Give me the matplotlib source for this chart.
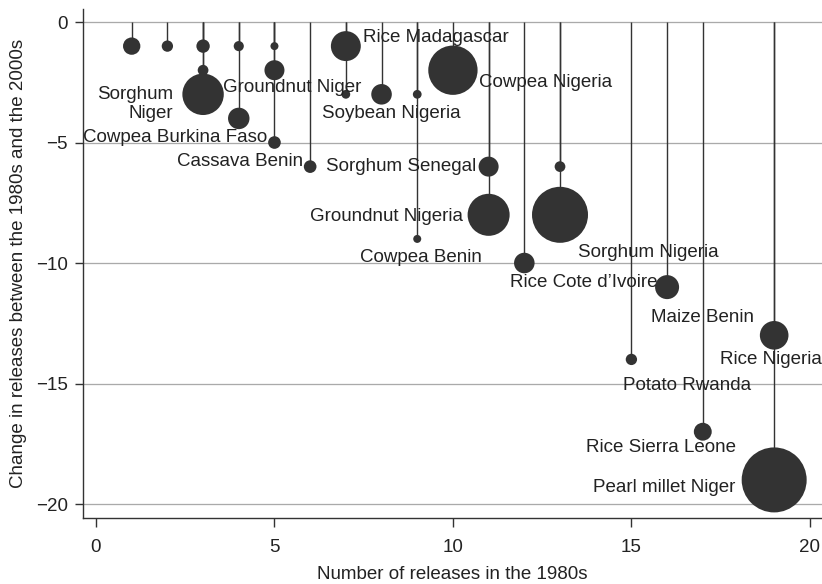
import matplotlib
matplotlib.use("Agg")
import matplotlib.pyplot as plt
import numpy as np

plt.rcParams['font.family'] = ['Liberation Sans', 'DejaVu Sans']

# releases in the 1980s, change between 1980s and 2000s, bubble weight
releases_80s = [1, 2, 3, 3, 3, 4, 4, 5, 5, 5, 6, 7, 7, 8, 9, 9, 10, 11, 11, 12, 13, 13, 15, 16, 17, 19, 19]
change = [-1, -1, -1, -2, -3, -1, -4, -1, -2, -5, -6, -1, -3, -3, -3, -9, -2, -6, -8, -10, -6, -8, -14, -11, -17, -13, -19]
weight = [4.7, 2.0, 2.8, 1.8, 26.8, 1.6, 7.2, 1.0, 6.25, 2.5, 2.5, 14, 1.2, 6.6, 1.2, 1.0, 38, 6.25, 27.6, 6.6, 1.8, 49, 2.0, 9, 5, 12.8, 66]

labels = ["Sorghum\nNiger", "Groundnut Niger", "Cowpea Burkina Faso", "Cassava Benin",
          "Rice Madagascar", "Soybean Nigeria", "Cowpea Benin", "Cowpea Nigeria",
          "Sorghum Senegal", "Groundnut Nigeria", "Rice Cote d\u2019Ivoire", "Sorghum Nigeria",
          "Potato Rwanda", "Maize Benin", "Rice Sierra Leone", "Rice Nigeria", "Pearl millet Niger"]
label_idx = [4, 8, 9, 10, 11, 13, 15, 16, 17, 18, 19, 21, 22, 23, 24, 25, 26]

# label placement (offset in px from the point, horizontal alignment)
label_pos = [(-30, -10, 'right'), (17.5, -17, 'center'), (-7.5, 5.5, 'right'), (-7, 5.5, 'right'),
             (17, 9, 'left'), (10, -19, 'center'), (4, -19, 'center'), (26, -12, 'left'),
             (-12.7, 0.6, 'right'), (-25.7, -2, 'right'), (-14.4, -19, 'left'), (18, -38, 'left'),
             (-8.5, -25.6, 'left'), (-16, -30, 'left'), (33, -15.3, 'right'), (-3, -24, 'center'),
             (-39, -8, 'right')]

col = '#333333'
fs = 18.7

fig = plt.figure(figsize=(822 / 72, 584 / 72), dpi=72)
ax = fig.add_axes([83 / 822, 1 - 518 / 584, 1 - 83 / 822, (518 - 9) / 584])

ax.set_xlim(-0.364, 20.34)
ax.set_ylim(-20.58, 0.54)

ax.set_yticks([0, -5, -10, -15, -20])
ax.set_xticks([0, 5, 10, 15, 20])
ax.yaxis.grid(True, color='#aaaaaa', linewidth=1.3)
ax.set_axisbelow(True)

x = np.array(releases_80s)
y = np.array(change)
w = np.array(weight)

ax.vlines(x, y, 0, color=col, linewidth=1.4, zorder=2)
ax.scatter(x, y, s=64 * w, color=col, linewidths=0, zorder=3)

for lab, i, (dx, dy, ha) in zip(labels, label_idx, label_pos):
    ax.annotate(lab, (x[i], y[i]), xytext=(dx, dy), textcoords='offset points',
                ha=ha, va='center', fontsize=fs, color='#222222', multialignment='right',
                linespacing=1.15, zorder=4)

for s in ['top', 'right']:
    ax.spines[s].set_visible(False)
for s in ['left', 'bottom']:
    ax.spines[s].set_color(col)
    ax.spines[s].set_linewidth(1.4)

ax.tick_params(axis='both', colors=col, labelcolor='#222222', labelsize=fs, width=1.4)
ax.tick_params(axis='y', length=8, pad=7)
ax.tick_params(axis='x', length=9, pad=12)

ax.set_xlabel("Number of releases in the 1980s", fontsize=fs, color='#222222', labelpad=10)
ax.set_ylabel("Change in releases between the 1980s and the 2000s", fontsize=fs, color='#222222', labelpad=9)

fig.savefig("out.png", dpi=72)
